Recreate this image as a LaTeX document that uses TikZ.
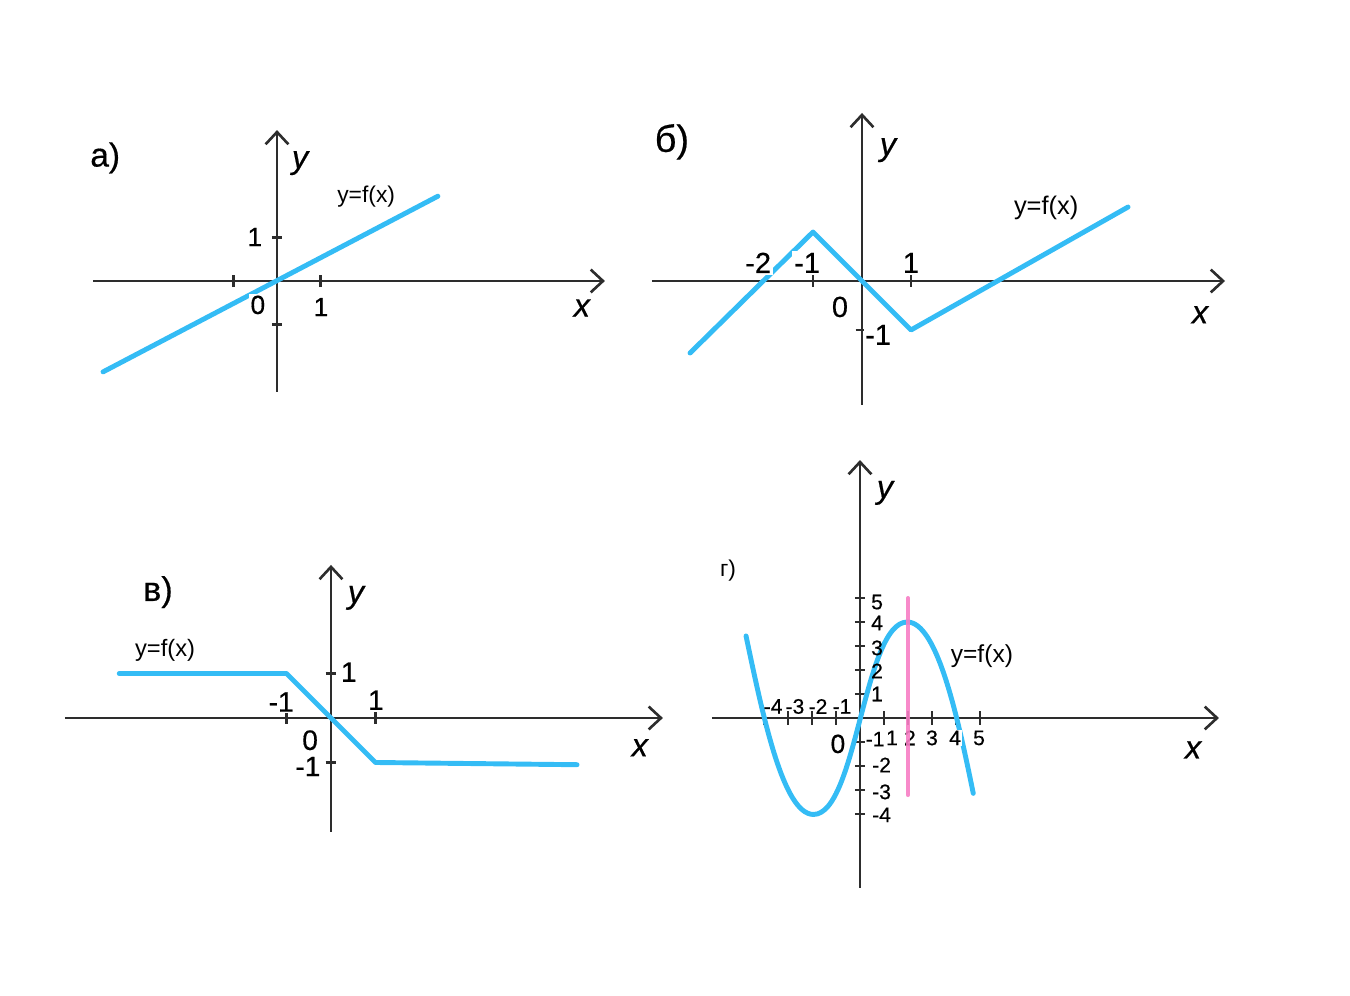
\documentclass[tikz,border=0pt]{standalone}
\usepackage{fontspec}
\setmainfont{Liberation Sans}
\newfontfamily\heavyfont{Liberation Sans}[FakeBold=0.5]
\usetikzlibrary{arrows.meta}

\definecolor{axisgray}{RGB}{45,45,45}
\definecolor{graphblue}{RGB}{52,188,245}
\definecolor{markpink}{RGB}{247,125,196}

\tikzset{
    axisline/.style={axisgray,line width=1.5pt,-{Straight Barb[length=7pt,width=13pt]}},
    tickmark/.style={axisgray,line width=1.5pt},
    fgraph/.style={graphblue,line width=2.8pt,line cap=round,line join=round},
    num/.style={font=\heavyfont\fontsize{#1}{#1}\selectfont,fill=white,inner sep=1pt},
    num/.default=15,
    smallnum/.style={font=\heavyfont\fontsize{12}{12}\selectfont,inner sep=0.5pt},
    axlabel/.style={font=\heavyfont\fontsize{18.5}{18.5}\selectfont\itshape},
    panel/.style={font=\heavyfont\fontsize{#1}{#1}\selectfont},
    panel/.default=19,
    fname/.style={font=\fontsize{#1}{#1}\selectfont},
    fname/.default=13,
}

\begin{document}
\begin{tikzpicture}[x=0.02cm,y=-0.02cm]

\useasboundingbox (0,0) rectangle (1350,996);

\begin{scope}[shift={(277,281)},x=0.87cm,y=0.87cm]
    \draw[axisline] (-4.23,0) -- (7.54,0);
    \draw[axisline] (0,-2.55) -- (0,3.47);
    \foreach \t in {-1,1}
    {
        \draw[tickmark] (\t,-0.14) -- (\t,0.14);
        \draw[tickmark] (-0.12,\t) -- (0.12,\t);
    }
    \draw[fgraph] (-4.0,-2.09) -- (3.70,1.95);
    \node[num] (a-y1) at (-0.51,1.01) {1};
    \node[num] (a-o) at (-0.44,-0.55) {0};
    \node[num] (a-x1) at (1.01,-0.6) {1};
    \node[axlabel] (a-x) at (7.01,-0.62) {x};
    \node[axlabel] (a-y) at (0.53,2.71) {y};
    \node[panel] (a-name) at (-3.95,2.83) {а)};
    \node[fname] (a-f) at (2.05,1.93) {y=f(x)};
\end{scope}

\begin{scope}[shift={(862,281)},x=0.98cm,y=0.98cm]
    \draw[axisline] (-4.29,0) -- (7.41,0);
    \draw[axisline] (0,-2.53) -- (0,3.43);
    \foreach \t in {-1,1}
        \draw[tickmark] (\t,-0.12) -- (\t,0.12);
    \draw[tickmark] (-0.13,-1) -- (0.12,-1);
    \draw[fgraph] (-3.51,-1.47) -- (-1,1) -- (0,0) -- (1,-1) -- (5.43,1.51);
    \node[num=16.5] (b-xm2) at (-2.12,0.37) {-2};
    \node[num=16.5] (b-xm1) at (-1.12,0.37) {-1};
    \node[num=16.5] (b-x1) at (1,0.37) {1};
    \node[num=16.5] (b-o) at (-0.45,-0.53) {0};
    \node[num=16.5] (b-ym1) at (0.33,-1.1) {-1};
    \node[axlabel] (b-x) at (6.9,-0.69) {x};
    \node[axlabel] (b-y) at (0.53,2.67) {y};
    \node[panel=21.5] (b-name) at (-3.88,2.84) {б)};
    \node[fname=14.5] (b-f) at (3.76,1.49) {y=f(x)};
\end{scope}

\begin{scope}[shift={(331,718)},x=0.89cm,y=0.89cm]
    \draw[axisline] (-5.98,0) -- (7.46,0);
    \draw[axisline] (0,-2.56) -- (0,3.44);
    \foreach \t in {-1,1}
    {
        \draw[tickmark] (\t,-0.13) -- (\t,0.13);
        \draw[tickmark] (-0.12,\t) -- (0.12,\t);
    }
    \draw[fgraph] (-4.76,1) -- (-1,1) -- (0,0) -- (1,-1) -- (5.53,-1.05);
    \node[num=16] (c-xm1) at (-1.12,0.36) {-1};
    \node[num=16] (c-x1) at (1.01,0.4) {1};
    \node[num=16] (c-y1) at (0.4,1.03) {1};
    \node[num=16,inner sep=0.3pt] (c-o) at (-0.47,-0.5) {0};
    \node[num=16,inner sep=0.3pt] (c-ym1) at (-0.52,-1.09) {-1};
    \node[axlabel] (c-x) at (6.94,-0.67) {x};
    \node[axlabel] (c-y) at (0.56,2.7) {y};
    \node[panel=19.5] (c-name) at (-3.89,2.83) {в)};
    \node[fname=13.5] (c-f) at (-3.73,1.51) {y=f(x)};
\end{scope}

\begin{scope}[shift={(860,718)},x=0.48cm,y=0.48cm]
    \draw[axisline] (-6.17,0) -- (14.96,0);
    \draw[axisline] (0,-7.08) -- (0,10.75);
    \foreach \t in {-4,-3,-2,-1,1,2,3,4,5}
    {
        \draw[tickmark] (\t,-0.29) -- (\t,0.29);
        \draw[tickmark] (-0.21,\t) -- (0.21,\t);
    }
    \draw[fgraph] (-4.75,3.42) .. controls (-4.05,0.1) and (-3.2,-4.02) .. (-1.94,-4.02)
        .. controls (-0.14,-4.02) and (0.17,4.0) .. (1.97,4.0)
        .. controls (3.2,4.0) and (4.05,0.15) .. (4.72,-3.14);
    \foreach \t/\xx in {-4/-3.62,-3/-2.71,-2/-1.75,-1/-0.75}
        \node[smallnum] (d-xm\t) at (\xx,0.48) {\t};
    \foreach \t/\yy in {5/4.83,4/3.96,3/2.92,2/1.96,1/1.0}
        \node[smallnum] (d-y\t) at (0.71,\yy) {\t};
    \node[smallnum] (d-ym1) at (0.63,-0.88) {-1};
    \foreach \t/\yy in {-2/-1.96,-3/-3.08,-4/-4.04}
        \node[smallnum] (d-yn\t) at (0.9,\yy) {\t};
    \foreach \t/\xx in {1/1.33,2/2.08,3/3,4/3.96,5/4.96}
        \node[smallnum,fill=white] (d-x\t) at (\xx,-0.83) {\t};
    \node[num,fill=none] (d-o) at (-0.92,-1.08) {0};
    \node[axlabel] (d-x) at (13.88,-1.33) {x};
    \node[axlabel] (d-y) at (1.04,9.38) {y};
    \node[fname=13] (d-name) at (-5.5,6.13) {г)};
    \node[fname=14] (d-f) at (5.08,2.58) {y=f(x)};
    \draw[markpink,line width=2.3pt,line cap=round,opacity=0.9] (2,5.0) -- (2,-3.21);
\end{scope}

\end{tikzpicture}
\end{document}
